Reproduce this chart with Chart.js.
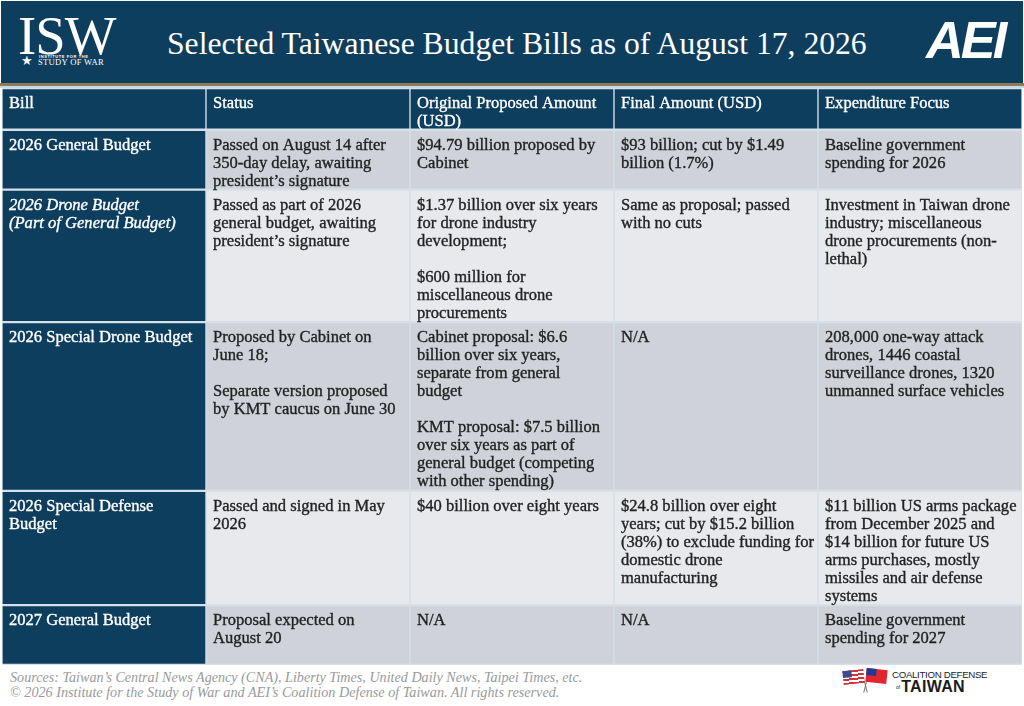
<!DOCTYPE html>
<html>
<head>
<meta charset="utf-8">
<script src="https://cdn.jsdelivr.net/npm/chart.js@4.4.0/dist/chart.umd.min.js"></script>
<style>
  html, body { margin: 0; padding: 0; background: #ffffff; }
  body { width: 1024px; height: 706px; position: relative; overflow: hidden; font-family: "Liberation Serif", serif; }
  #banner { position: absolute; left: 1px; top: 1px; width: 1022px; height: 82px; background: #0e3e5d; }
  #rule { position: absolute; left: 0; top: 83px; width: 1024px; height: 3px; background: #8d7c59; }
  #rule2 { position: absolute; left: 0; top: 86px; width: 1024px; height: 2px; background: #cdd9e2; }
  .fit { position: absolute; white-space: nowrap; }
  #title { color: #ffffff; left: 167px; top: 44px; transform: translateY(-50%); }
  #isw { color: #ffffff; left: 18px; top: 35px; transform: translateY(-50%); letter-spacing: -1px; }
  #inst { color: #ffffff; left: 39px; top: 54px; font-family: "Liberation Sans", sans-serif; font-weight: bold; font-size: 4px; letter-spacing: 0.6px; }
  #sow { color: #ffffff; left: 38px; top: 57px; font-size: 9px; letter-spacing: 0.3px; }
  #star { color: #ffffff; left: 21px; top: 53px; font-size: 13px; }
  #aei { color: #ffffff; left: 926px; top: 19px; font-family: "Liberation Sans", sans-serif; font-weight: bold; font-style: italic; font-size: 42px; letter-spacing: -3px; line-height: 42px; }
  #wrap { position: absolute; left: 0; top: 88px; width: 1024px; height: 577px; }
  #footer1, #footer2 { color: #9a9a9a; font-style: italic; left: 10px; }
  #footer1 { top: 677px; transform: translateY(-50%); }
  #footer2 { top: 692px; transform: translateY(-50%); }
  #cdt1 { left: 892px; top: 669px; font-family: "Liberation Sans Narrow", "Liberation Sans", sans-serif; font-size: 11px; color: #1c1c1c; letter-spacing: -0.3px; }
  #cdt2 { left: 896px; top: 678px; font-family: "Liberation Sans", sans-serif; font-weight: bold; font-size: 16px; color: #1c1c1c; letter-spacing: 0.3px; }
  #cdtof { font-size: 5px; font-weight: normal; letter-spacing: 0; vertical-align: 3px; margin-right: 1px; }
  .flag { position: absolute; width: 21px; height: 14px; }
  #us { left: 843px; top: 670px; transform: rotate(-6deg);
        background: repeating-linear-gradient(180deg, #d3313a 0 2px, #ffffff 2px 4px); }
  #us:after { content: ""; position: absolute; left: 0; top: 0; width: 9px; height: 7px; background: #3c4b8f; }
  #tw { left: 866px; top: 669px; transform: rotate(6deg); background: #e1262d; }
  #tw:after { content: ""; position: absolute; left: 0; top: 0; width: 10px; height: 7px; background: #1f3a93; }
  .pole { position: absolute; width: 1px; height: 23px; background: #777; }
  #p1 { left: 864px; top: 670px; transform: rotate(-14deg); }
  #p2 { left: 866px; top: 670px; transform: rotate(14deg); }
</style>
</head>
<body>
<div id="banner"></div>
<div id="rule"></div>
<div id="rule2"></div>
<div class="fit" id="isw">ISW</div>
<div class="fit" id="inst">INSTITUTE FOR THE</div>
<div class="fit" id="star">★</div>
<div class="fit" id="sow">STUDY OF WAR</div>
<div class="fit" id="title">Selected Taiwanese Budget Bills as of August 17, 2026</div>
<div class="fit" id="aei">AEI</div>
<div id="wrap"><canvas id="table"></canvas></div>
<div class="fit" id="footer1">Sources: Taiwan’s Central News Agency (CNA), Liberty Times, United Daily News, Taipei Times, etc.</div>
<div class="fit" id="footer2">© 2026 Institute for the Study of War and AEI’s Coalition Defense of Taiwan. All rights reserved.</div>
<div class="pole" id="p1"></div>
<div class="pole" id="p2"></div>
<div class="flag" id="us"></div>
<div class="flag" id="tw"></div>
<div class="fit" id="cdt1">COALITION DEFENSE</div>
<div class="fit" id="cdt2"><span id="cdtof">of</span>TAIWAN</div>
<script>
'use strict';

// column headings (each cell is a list of lines, '' = blank line)
var columns = [
    ['Bill'],
    ['Status'],
    ['Original Proposed Amount', '(USD)'],
    ['Final Amount (USD)'],
    ['Expenditure Focus']
];

var bills = [
    ['2026 General Budget'],
    ['2026 Drone Budget', '(Part of General Budget)'],
    ['2026 Special Drone Budget'],
    ['2026 Special Defense', 'Budget'],
    ['2027 General Budget']
];

var statuses = [
    ['Passed on August 14 after', '350-day delay, awaiting', 'president’s signature'],
    ['Passed as part of 2026', 'general budget, awaiting', 'president’s signature'],
    ['Proposed by Cabinet on', 'June 18;', '', 'Separate version proposed', 'by KMT caucus on June 30'],
    ['Passed and signed in May', '2026'],
    ['Proposal expected on', 'August 20']
];

var proposed = [
    ['$94.79 billion proposed by', 'Cabinet'],
    ['$1.37 billion over six years', 'for drone industry', 'development;', '', '$600 million for', 'miscellaneous drone', 'procurements'],
    ['Cabinet proposal: $6.6', 'billion over six years,', 'separate from general', 'budget', '', 'KMT proposal: $7.5 billion', 'over six years as part of', 'general budget (competing', 'with other spending)'],
    ['$40 billion over eight years'],
    ['N/A']
];

var finals = [
    ['$93 billion; cut by $1.49', 'billion (1.7%)'],
    ['Same as proposal; passed', 'with no cuts'],
    ['N/A'],
    ['$24.8 billion over eight', 'years; cut by $15.2 billion', '(38%) to exclude funding for', 'domestic drone', 'manufacturing'],
    ['N/A']
];

var focuses = [
    ['Baseline government', 'spending for 2026'],
    ['Investment in Taiwan drone', 'industry; miscellaneous', 'drone procurements (non-', 'lethal)'],
    ['208,000 one-way attack', 'drones, 1446 coastal', 'surveillance drones, 1320', 'unmanned surface vehicles'],
    ['$11 billion US arms package', 'from December 2025 and', '$14 billion for future US', 'arms purchases, mostly', 'missiles and air defense', 'systems'],
    ['Baseline government', 'spending for 2027']
];

var italicBills = [1];

var NAVY = '#0e3e5d';
var GRAY_DARK = '#cfd3d9';
var GRAY_LIGHT = '#e7e9ec';
var LINE = '#d5e0e8';
var LINE_H = 18;

function fitWidth(id, width) {
    var el = document.getElementById(id);
    var size = parseFloat(getComputedStyle(el).fontSize);
    var w = el.getBoundingClientRect().width;
    el.style.fontSize = (size * width / w) + 'px';
}

fitWidth('title', 700);
fitWidth('isw', 90);
fitWidth('sow', 66);
fitWidth('footer1', 573);
fitWidth('footer2', 550);
fitWidth('cdt1', 96);
fitWidth('aei', 76);

// table rows: header first, then the bills
var rows = [columns].concat(bills.map(function (b, i) {
    return [b, statuses[i], proposed[i], finals[i], focuses[i]];
}));

var rowUnits = rows.map(function (row, r) {
    var n = Math.max.apply(null, row.map(function (cell) { return cell.length; }));
    return Math.max(n, r === 0 ? 2 : 3) + 0.3;
});

var starts = [];
var total = 0;
rowUnits.forEach(function (u) { starts.push(total); total += u; });

// font size that makes a known line the width it has in the picture
var measure = document.createElement('canvas').getContext('2d');
measure.font = '100px "Liberation Serif"';
var fontPx = 100 * 185 / measure.measureText('Investment in Taiwan drone').width;

var datasets = rows.map(function (row, r) {
    return {
        data: row.map(function () { return [starts[r], starts[r] + rowUnits[r]]; }),
        backgroundColor: row.map(function (cell, c) {
            if (r === 0 || c === 0) return NAVY;
            return r % 2 === 1 ? GRAY_DARK : GRAY_LIGHT;
        }),
        borderColor: LINE,
        borderWidth: { top: 1.5, bottom: 1.5, left: 1, right: 1 },
        borderSkipped: false,
        grouped: false,
        barPercentage: 1,
        categoryPercentage: 1
    };
});

var cellText = {
    id: 'cellText',
    afterDatasetsDraw: function (chart) {
        var ctx = chart.ctx;
        var xs = chart.scales.x;
        var ys = chart.scales.y;
        var colW = (chart.chartArea.right - chart.chartArea.left) / columns.length;

        ctx.save();
        ctx.textBaseline = 'middle';
        ctx.textAlign = 'left';
        ctx.lineWidth = 0.35;
        rows.forEach(function (row, r) {
            var top = ys.getPixelForValue(starts[r]);
            row.forEach(function (lines, c) {
                var left = xs.getPixelForValue(c) - colW / 2 + 7;
                var italic = c === 0 && italicBills.indexOf(r - 1) !== -1;
                ctx.font = (italic ? 'italic ' : '') + fontPx + 'px "Liberation Serif"';
                ctx.fillStyle = (r === 0 || c === 0) ? '#ffffff' : '#222222';
                ctx.strokeStyle = ctx.fillStyle;
                lines.forEach(function (line, i) {
                    var y = top + 16 + i * LINE_H;
                    ctx.fillText(line, left, y);
                    ctx.strokeText(line, left, y);
                });
            });
        });
        ctx.restore();
    }
};

new Chart(document.getElementById('table'), {
    type: 'bar',
    data: {
        labels: columns.map(function (c) { return c.join(' '); }),
        datasets: datasets
    },
    options: {
        responsive: true,
        maintainAspectRatio: false,
        animation: false,
        events: [],
        layout: { padding: { left: 2, right: 2, top: 0, bottom: 0 } },
        plugins: {
            legend: { display: false },
            tooltip: { enabled: false },
            title: { display: false }
        },
        scales: {
            x: { type: 'category', display: false, offset: true, grid: { display: false } },
            y: { type: 'linear', display: false, min: 0, max: total, reverse: true }
        }
    },
    plugins: [cellText]
});
</script>
</body>
</html>
